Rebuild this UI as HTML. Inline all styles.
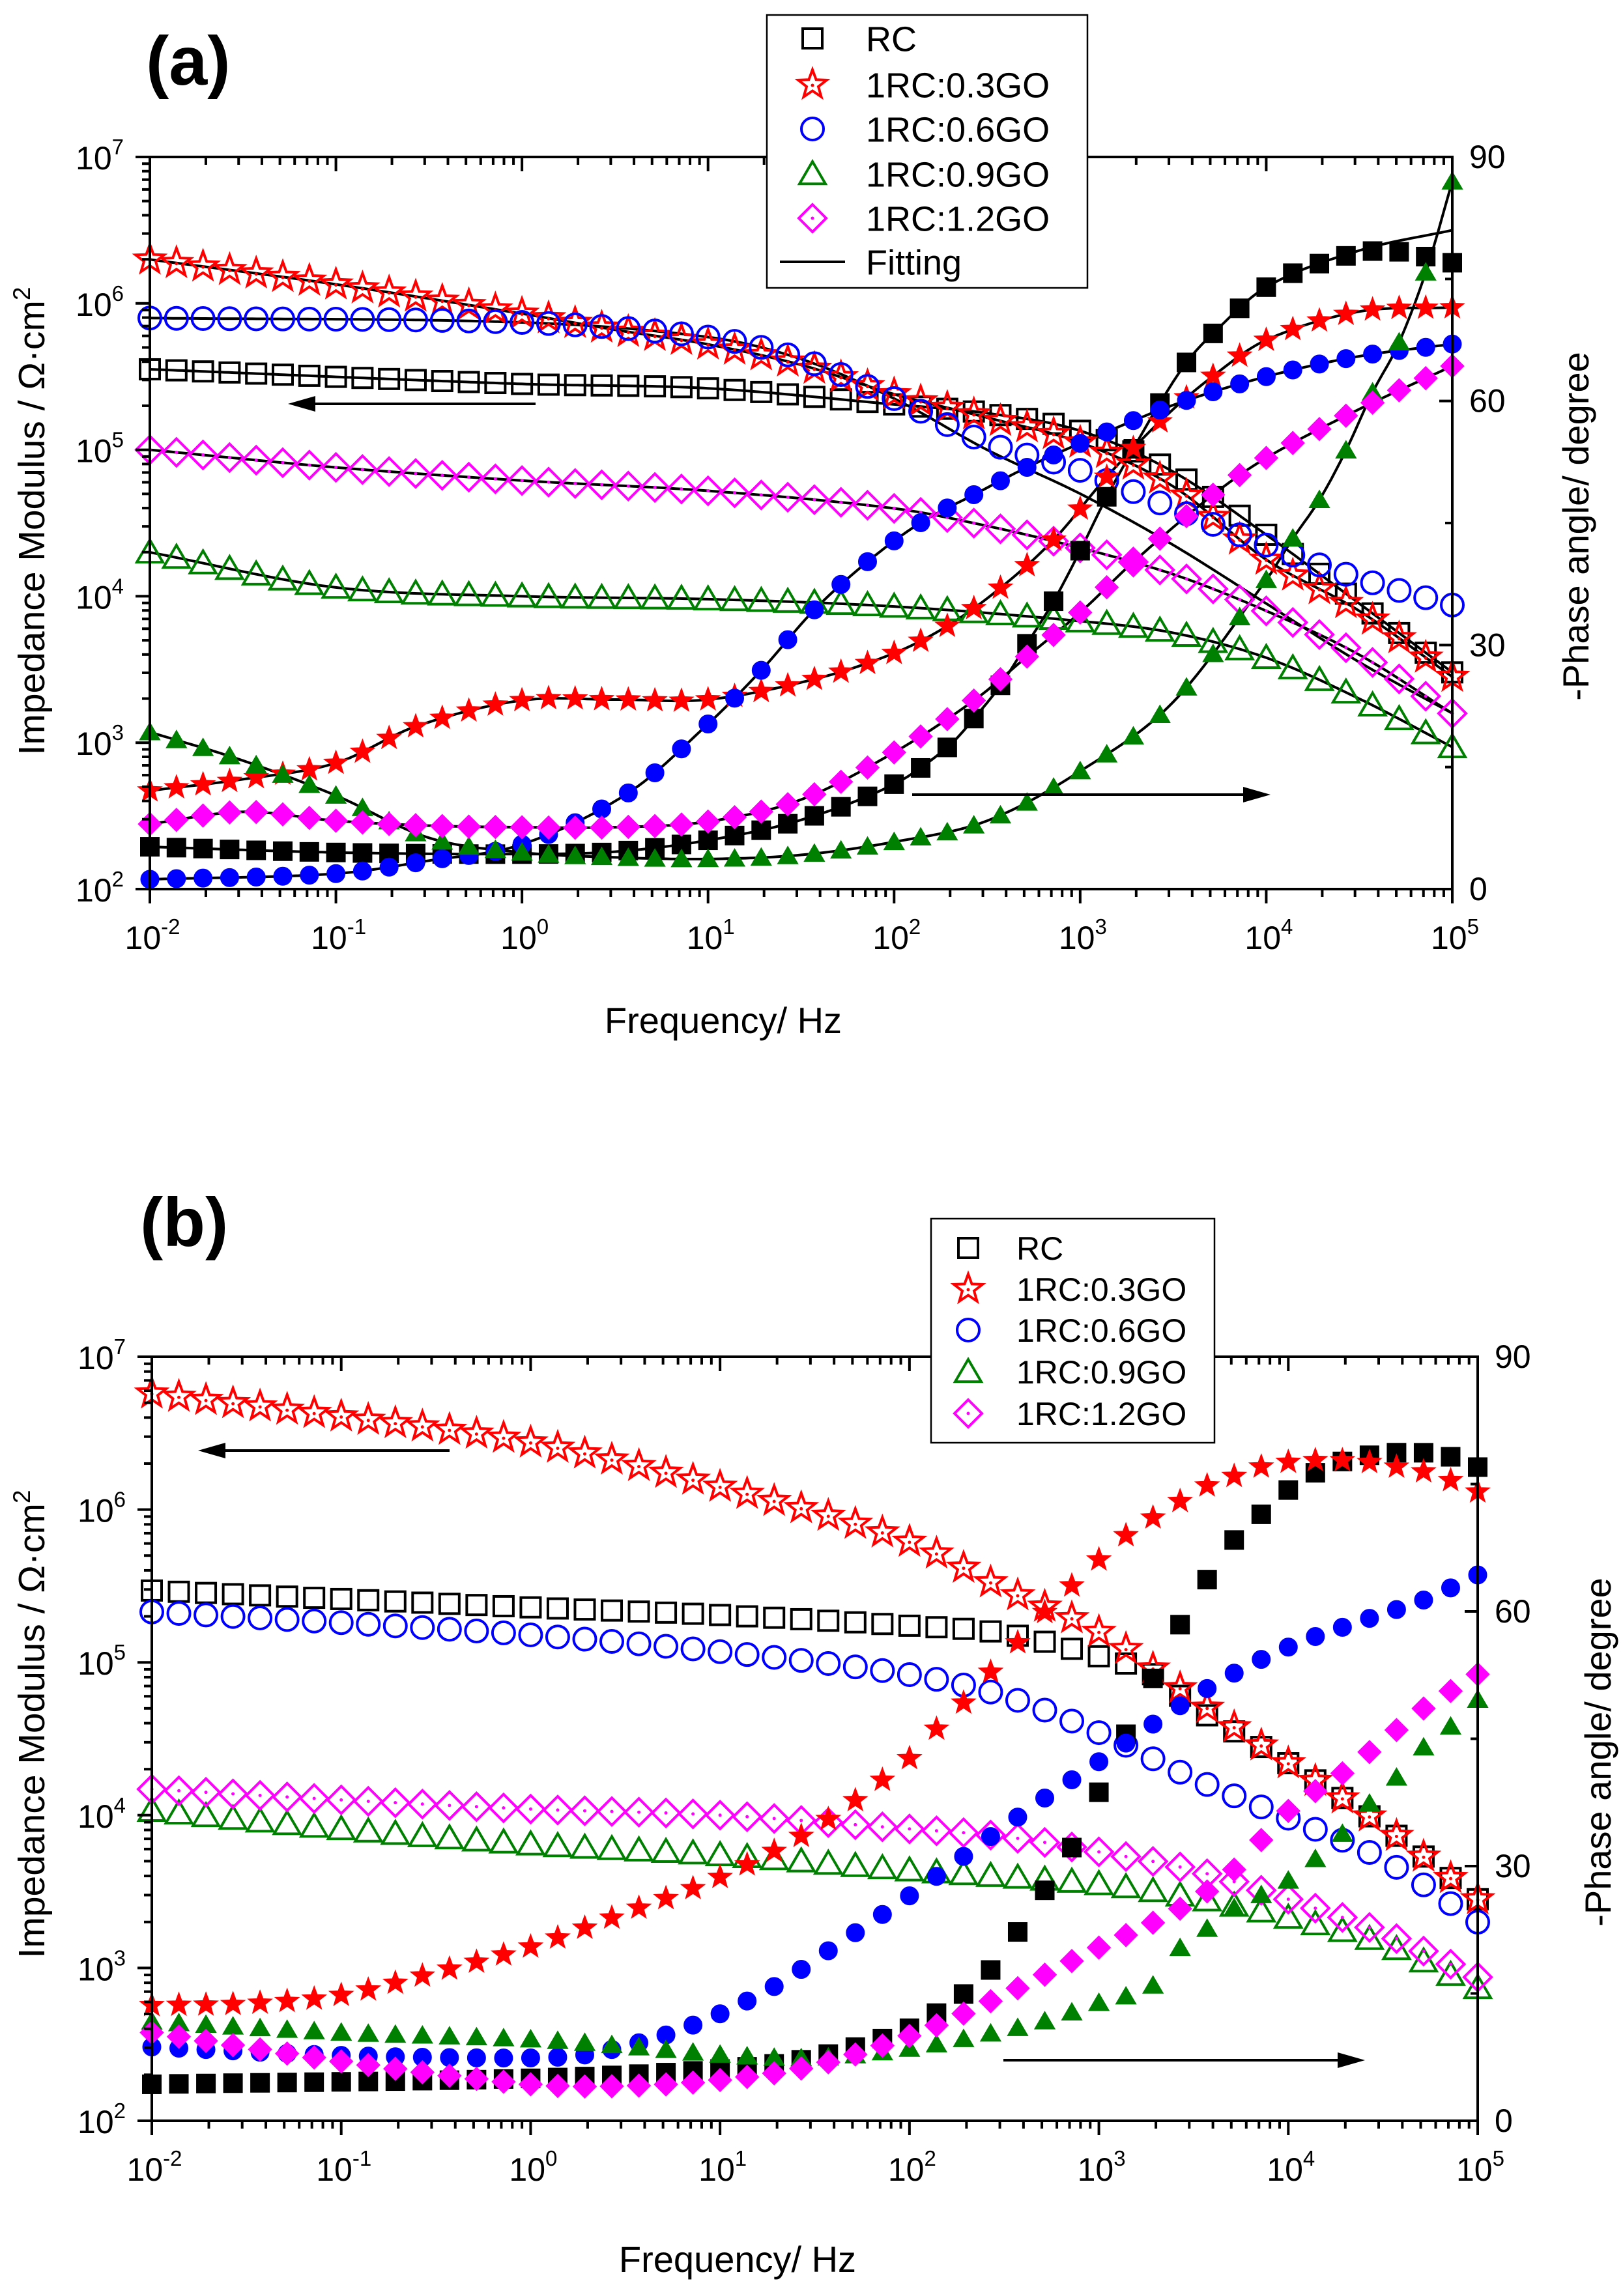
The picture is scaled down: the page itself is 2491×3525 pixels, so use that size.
<!DOCTYPE html>
<html><head><meta charset="utf-8">
<style>
html,body{margin:0;padding:0;background:#fff;}
svg{display:block;}
text{font-family:"Liberation Sans",Arial,sans-serif;fill:#000;}
</style></head>
<body>
<svg id="s" xmlns="http://www.w3.org/2000/svg" width="2491" height="3525" viewBox="0 0 2491 3525"></svg>
<script>
const svg=document.getElementById('s');
let out='';
function interp(pts,u){
  const n=pts.length;
  if(u<=pts[0][0])return pts[0][1];
  if(u>=pts[n-1][0])return pts[n-1][1];
  let i=0;while(pts[i+1][0]<u)i++;
  const p0=pts[Math.max(i-1,0)],p1=pts[i],p2=pts[i+1],p3=pts[Math.min(i+2,n-1)];
  const h=p2[0]-p1[0];const t=(u-p1[0])/h;
  const m1=(p2[1]-p0[1])/(p2[0]-p0[0]||1)*h;
  const m2=(p3[1]-p1[1])/(p3[0]-p1[0]||1)*h;
  const t2=t*t,t3=t2*t;
  return (2*t3-3*t2+1)*p1[1]+(t3-2*t2+t)*m1+(-2*t3+3*t2)*p2[1]+(t3-t2)*m2;
}
function star(cx,cy,R,r){let p=[];for(let k=0;k<10;k++){const a=-Math.PI/2+k*Math.PI/5;const rr=k%2?r:R;p.push((cx+rr*Math.cos(a)).toFixed(1)+','+(cy+rr*Math.sin(a)).toFixed(1));}return p.join(' ');}
function marker(type,x,y,col,filled,dot){
  const sw=4;let s='';
  if(type==='sq'){const a=filled?13:15;s=`<rect x="${x-a}" y="${y-a}" width="${2*a}" height="${2*a}" fill="${filled?col:'none'}" stroke="${col}" stroke-width="${sw}"/>`;}
  else if(type==='st'){const R=filled?18:23,r=filled?7.5:9.5;s=`<polygon points="${star(x,y,R,r)}" fill="${filled?col:'none'}" stroke="${col}" stroke-width="${filled?2:4}"/>`;if(dot)s+=`<circle cx="${x}" cy="${y+1}" r="2.5" fill="${col}"/>`;}
  else if(type==='ci'){s=`<circle cx="${x}" cy="${y}" r="${filled?14:17}" fill="${filled?col:'none'}" stroke="${col}" stroke-width="${filled?1:4}"/>`;}
  else if(type==='tr'){const a=filled?15:19;s=`<polygon points="${x},${y-a} ${x+a*1.05},${y+a*0.8} ${x-a*1.05},${y+a*0.8}" fill="${filled?col:'none'}" stroke="${col}" stroke-width="${filled?1:4}"/>`;}
  else if(type==='di'){const a=filled?18:21;s=`<polygon points="${x},${y-a} ${x+a},${y} ${x},${y+a} ${x-a},${y}" fill="${filled?col:'none'}" stroke="${col}" stroke-width="${filled?1:4}"/>`;if(dot)s+=`<circle cx="${x}" cy="${y}" r="2.5" fill="${col}"/>`;}
  return s;
}
function panel(P,mods,phs,fits,dot){
  const X=u=>P.L+(u+2)/7*(P.R-P.L);
  const YM=v=>P.B-(v-2)/5*(P.B-P.T);
  const YP=d=>P.B-d/90*(P.B-P.T);
  let g='';
  if(fits){
    const all=mods.map(m=>[m,YM]).concat(phs.map(m=>[m,YP]));
    for(const [m,Y] of all){
      const pts=m.fit||m.pts;let d='';
      for(let k=0;k<=280;k++){const u=-2+7*k/280;d+=(k?'L':'M')+X(u).toFixed(1)+','+Y(interp(pts,u)).toFixed(1);}
      g+=`<path d="${d}" fill="none" stroke="#000" stroke-width="4"/>`;
    }
  }
  for(const m of mods){for(let k=0;k<50;k++){const u=-2+k/7;g+=marker(m.t,X(u),YM(interp(m.pts,u)),m.c,false,dot);}}
  for(const m of phs){for(let k=0;k<50;k++){const u=-2+k/7;g+=marker(m.t,X(u),YP(interp(m.pts,u)),m.c,true,false);}}
  g+=`<rect x="${P.L}" y="${P.T}" width="${P.R-P.L}" height="${P.B-P.T}" fill="none" stroke="#000" stroke-width="4"/>`;
  for(let e=-2;e<=5;e++){
    const x=X(e);
    g+=`<line x1="${x}" y1="${P.B}" x2="${x}" y2="${P.B+22}" stroke="#000" stroke-width="4"/>`;
    g+=`<line x1="${x}" y1="${P.T}" x2="${x}" y2="${P.T+22}" stroke="#000" stroke-width="4"/>`;
    g+=`<text x="${x+4}" y="${P.B+92}" font-size="50" text-anchor="middle">10<tspan font-size="33" dy="-23">${e<0?'-'+(-e):e}</tspan></text>`;
    if(e<5)for(let j=2;j<10;j++){const xm=X(e+Math.log10(j));
      g+=`<line x1="${xm}" y1="${P.B}" x2="${xm}" y2="${P.B+12}" stroke="#000" stroke-width="4"/>`;
      g+=`<line x1="${xm}" y1="${P.T}" x2="${xm}" y2="${P.T+12}" stroke="#000" stroke-width="4"/>`;}
  }
  for(let e=2;e<=7;e++){
    const y=YM(e);
    g+=`<line x1="${P.L-22}" y1="${y}" x2="${P.L}" y2="${y}" stroke="#000" stroke-width="4"/>`;
    g+=`<text x="${P.L-40}" y="${y+19}" font-size="50" text-anchor="end">10<tspan font-size="33" dy="-23">${e}</tspan></text>`;
    if(e<7)for(let j=2;j<10;j++){const ym=YM(e+Math.log10(j));g+=`<line x1="${P.L-12}" y1="${ym}" x2="${P.L}" y2="${ym}" stroke="#000" stroke-width="4"/>`;}
  }
  for(let d=0;d<=90;d+=15){
    const y=YP(d);const maj=d%30===0;
    g+=`<line x1="${P.R-(maj?20:11)}" y1="${y}" x2="${P.R}" y2="${y}" stroke="#000" stroke-width="4"/>`;
    if(maj)g+=`<text x="${P.R+26}" y="${y+17}" font-size="50">${d}</text>`;
  }
  g+=`<line x1="${P.R}" y1="${P.B}" x2="${P.R}" y2="${P.B+22}" stroke="#000" stroke-width="4"/>`;
  return g;
}
function arrow(x1,y,x2){const dir=x2>x1?1:-1;return `<line x1="${x1}" y1="${y}" x2="${x2-dir*40}" y2="${y}" stroke="#000" stroke-width="4"/><polygon points="${x2},${y} ${x2-dir*42},${y-12} ${x2-dir*42},${y+12}" fill="#000"/>`;}

const A={L:230,R:2229,T:241,B:1365};
const modsA=[
 {t:'sq',c:'#000',pts:[[-2,5.55],[0,5.45],[1,5.42],[2,5.31],[2.5,5.25],[3,5.13],[3.5,4.85],[4,4.42],[4.5,3.95],[5,3.48]]},
 {t:'st',c:'#ff0000',pts:[[-2,6.3],[-1,6.13],[0,5.93],[0.5,5.82],[1,5.72],[1.5,5.58],[2,5.38],[2.5,5.22],[3,5.05],[3.5,4.75],[4,4.25],[4.5,3.9],[5,3.45]]},
 {t:'ci',c:'#0000ff',pts:[[-2,5.9],[0,5.87],[1,5.77],[1.5,5.62],[2,5.35],[2.5,5.05],[3,4.86],[3.5,4.6],[4,4.35],[4.5,4.12],[5,3.94]],fit:[[-2,5.9],[0,5.87],[1,5.77],[1.5,5.62],[2,5.35],[2.5,5.0],[3,4.7],[3.5,4.35],[4,3.95],[4.5,3.55],[5,3.2]]},
 {t:'tr',c:'#008000',pts:[[-2,4.3],[-1,4.06],[0,4.0],[1,3.98],[2,3.93],[3,3.83],[3.5,3.75],[4,3.58],[4.5,3.3],[5,2.97]]},
 {t:'di',c:'#ff00ff',pts:[[-2,5.0],[-1,4.88],[0,4.79],[1,4.72],[2,4.6],[2.5,4.48],[3,4.33],[3.5,4.15],[4,3.9],[4.5,3.6],[5,3.2]]}
];
const phsA=[
 {t:'sq',c:'#000',pts:[[-2,5.2],[-1,4.5],[0,4.3],[0.5,4.6],[1,6],[1.5,8.5],[2,12.9],[2.29,17.5],[2.43,21],[2.57,25],[2.71,30],[2.86,35.5],[3,41.6],[3.14,48.1],[3.29,54.3],[3.43,59.8],[3.57,64.7],[3.7,68],[4,74],[4.3,77],[4.6,78.5],[4.8,78],[5,77]],fit:[[-2,5.2],[-1,4.5],[0,4.3],[0.5,4.6],[1,6],[1.5,8.5],[2,12.9],[2.29,17.5],[2.43,21],[2.57,25],[2.71,30],[2.86,35.5],[3,41.6],[3.14,48.1],[3.29,54.3],[3.43,59.8],[3.57,64.7],[3.7,68],[4,74],[4.5,78.5],[5,81]]},
 {t:'st',c:'#ff0000',pts:[[-2,12.1],[-1.5,13.5],[-1,15.5],[-0.57,20],[0,23.2],[0.5,23.3],[1,23.3],[1.57,25.8],[2,29],[2.29,32.4],[2.57,37],[2.86,43],[3.14,50.6],[3.43,57.5],[3.71,63],[4,67.5],[4.5,71],[5,71.5]]},
 {t:'ci',c:'#0000ff',pts:[[-2,1.2],[-1,1.9],[-0.5,3.5],[0,5.5],[0.57,11.8],[1,20.3],[1.29,27],[1.57,34.3],[1.86,40.3],[2.14,45],[2.43,48.5],[2.71,51.8],[3,54.8],[3.5,59.5],[4,63],[4.5,65.5],[5,67]]},
 {t:'tr',c:'#008000',pts:[[-2,19.3],[-1.5,15.8],[-1,11.5],[-0.5,6.3],[0,4.5],[0.5,3.9],[1,3.7],[1.5,4.2],[2,5.8],[2.5,8.4],[3,14.5],[3.5,23],[4,38],[4.14,43],[4.29,48],[4.43,54],[4.57,61],[4.71,67],[4.86,76],[5,87]]},
 {t:'di',c:'#ff00ff',pts:[[-2,8],[-1.5,9.5],[-1,8.4],[-0.5,7.8],[0,7.6],[0.5,7.6],[1,8.3],[1.5,11],[2,16.8],[2.43,23.2],[2.71,28.5],[3,34],[3.29,40.3],[3.71,48.4],[4,53],[4.5,59],[5,64.3]]}
];
out+=panel(A,modsA,phsA,true,true);
out+=arrow(822,620,442)+arrow(1400,1220,1950);

const B={L:233,R:2268,T:2083,B:3256};
const modsB=[
 {t:'sq',c:'#000',pts:[[-2,5.47],[0,5.36],[1,5.31],[2,5.24],[2.5,5.19],[3,5.04],[3.29,4.92],[3.5,4.71],[4,4.34],[4.5,3.93],[5,3.45]]},
 {t:'st',c:'#ff0000',pts:[[-2,6.76],[-1,6.61],[0,6.44],[1,6.15],[2,5.79],[2.5,5.48],[3,5.2],[3.43,4.83],[3.71,4.58],[4,4.34],[4.5,3.93],[5,3.45]]},
 {t:'ci',c:'#0000ff',pts:[[-2,5.33],[-1,5.26],[0,5.18],[1,5.07],[2,4.92],[2.5,4.78],[3,4.54],[3.5,4.24],[4,3.98],[4.5,3.71],[5,3.30]]},
 {t:'tr',c:'#008000',pts:[[-2,4.03],[-1,3.91],[0,3.81],[1,3.74],[2,3.64],[3,3.55],[3.5,3.46],[4,3.33],[4.5,3.16],[5,2.87]]},
 {t:'di',c:'#ff00ff',pts:[[-2,4.17],[-1,4.1],[0,4.04],[1,4.0],[2,3.91],[2.5,3.86],[3,3.76],[3.5,3.64],[4,3.45],[4.5,3.23],[5,2.94]]}
];
const phsB=[
 {t:'sq',c:'#000',pts:[[-2,4.3],[0,5],[1,6.1],[1.5,7.5],[2,10.9],[2.29,15],[2.43,17.8],[2.57,22.2],[2.71,27],[2.86,32.3],[3,38.7],[3.14,45.4],[3.29,52.3],[3.43,58.5],[3.57,63.7],[3.71,68.3],[3.86,71.5],[4,74.3],[4.14,76.3],[4.29,77.7],[4.43,78.4],[4.57,78.7],[4.71,78.7],[4.86,78.2],[5,77]]},
 {t:'st',c:'#ff0000',pts:[[-2,13.6],[-1.5,13.8],[-1,14.8],[-0.5,17.5],[0,20.5],[0.5,24.5],[1,28.7],[1.5,34.5],[1.99,42.5],[2.14,46.1],[2.28,49.1],[2.43,52.9],[2.57,56.3],[2.71,59.8],[2.86,63.1],[3.0,66.1],[3.14,68.9],[3.29,71.1],[3.43,73],[3.57,74.8],[3.71,75.9],[3.85,77],[4.0,77.6],[4.14,77.8],[4.28,77.8],[4.42,77.6],[4.58,77],[4.71,76.5],[4.85,75.5],[5,74.1]]},
 {t:'ci',c:'#0000ff',pts:[[-2,8.7],[-1,7.7],[0,7.4],[0.3,7.8],[0.5,8.8],[0.7,10],[1,12.6],[1.3,16],[1.57,20],[2,26.5],[2.43,33.5],[2.7,37.8],[3,42.3],[3.57,50.9],[4,55.8],[4.43,59.2],[4.71,61.3],[5,64.3]]},
 {t:'tr',c:'#008000',pts:[[-2,11.7],[-1,10.4],[0,9.6],[0.5,8.8],[1,7.8],[1.5,7.4],[2,8.5],[2.43,10.3],[2.71,11.7],[3,13.9],[3.29,16],[3.43,20.4],[3.57,22.6],[3.71,25],[4,28.3],[4.29,33.9],[4.43,37.4],[4.57,40.4],[4.71,43.9],[4.86,46.5],[5,49.6]]},
 {t:'di',c:'#ff00ff',pts:[[-2,10.4],[-1,7],[0,4.3],[0.5,4.1],[1,4.8],[1.5,6.5],[2,10],[2.43,14.1],[3,20.4],[3.43,25],[3.71,29.5],[4,36.5],[4.29,41],[4.57,46],[4.71,48.5],[5,52.6]]}
];
out+=panel(B,modsB,phsB,false,true);
out+=arrow(690,2227,304)+arrow(1540,3163,2095);

out+=`<text x="224" y="130" font-size="106" font-weight="bold">(a)</text>`;
out+=`<text x="215" y="1913" font-size="106" font-weight="bold">(b)</text>`;
out+=`<text x="1110" y="1586" font-size="56" text-anchor="middle">Frequency/ Hz</text>`;
out+=`<text x="1132" y="3488" font-size="56" text-anchor="middle">Frequency/ Hz</text>`;
out+=`<text transform="translate(68,800) rotate(-90)" font-size="57" text-anchor="middle">Impedance Modulus / Ω·cm<tspan font-size="37" dy="-22">2</tspan></text>`;
out+=`<text transform="translate(68,2647) rotate(-90)" font-size="57" text-anchor="middle">Impedance Modulus / Ω·cm<tspan font-size="37" dy="-22">2</tspan></text>`;
out+=`<text transform="translate(2438,808) rotate(-90)" font-size="56" text-anchor="middle">-Phase angle/ degree</text>`;
out+=`<text transform="translate(2472,2690) rotate(-90)" font-size="56" text-anchor="middle">-Phase angle/ degree</text>`;

function legend(x1,y1,x2,y2,sx,tx,rows,fit,fs){
  let g=`<rect x="${x1}" y="${y1}" width="${x2-x1}" height="${y2-y1}" fill="#fff" stroke="#000" stroke-width="2.5"/>`;
  const items=[['sq','#000','RC'],['st','#ff0000','1RC:0.3GO'],['ci','#0000ff','1RC:0.6GO'],['tr','#008000','1RC:0.9GO'],['di','#ff00ff','1RC:1.2GO']];
  items.forEach((it,i)=>{g+=marker(it[0],sx,rows[i],it[1],false,true);g+=`<text x="${tx}" y="${rows[i]+fs*0.36}" font-size="${fs}">${it[2]}</text>`;});
  if(fit){g+=`<line x1="${sx-50}" y1="${rows[5]}" x2="${sx+50}" y2="${rows[5]}" stroke="#000" stroke-width="4"/><text x="${tx}" y="${rows[5]+fs*0.36}" font-size="${fs}">Fitting</text>`;}
  return g;
}
out+=legend(1177,23,1669,442,1247,1329,[59,130,198,267,335,402],true,54);
out+=legend(1429,1871,1864,2215,1486,1560,[1916,1979,2042,2106,2170],false,50);
svg.innerHTML=out;
</script>
</body></html>
